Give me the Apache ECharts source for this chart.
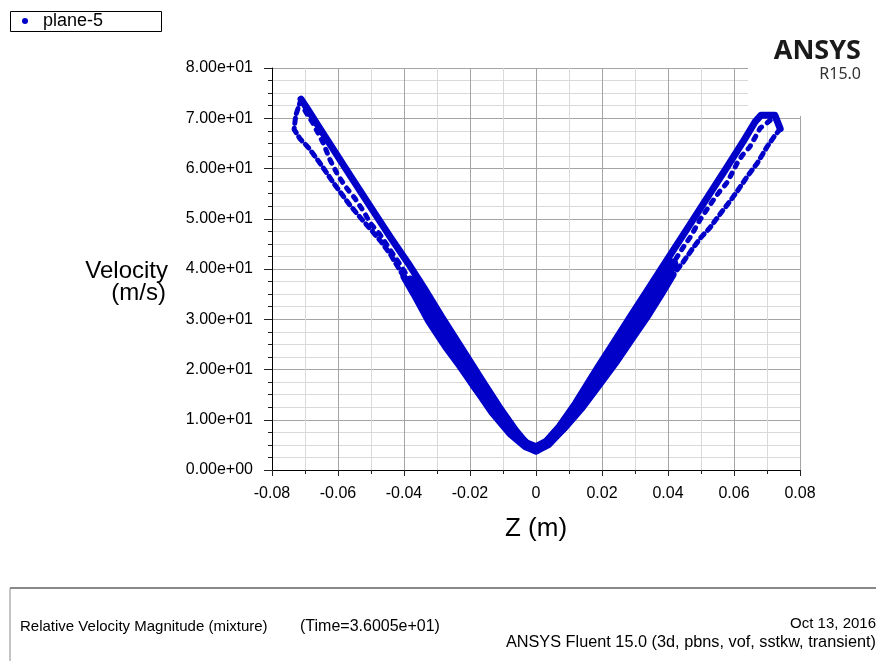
<!DOCTYPE html>
<html>
<head>
<meta charset="utf-8">
<script src="https://cdn.jsdelivr.net/npm/echarts@6/dist/echarts.min.js"></script>
<style>
html,body{margin:0;padding:0;background:#fff;}
#chart{width:876px;height:661px;}
</style>
</head>
<body>
<div id="chart"></div>
<script>
// velocity profile along Z, plane-5
var leftOuter = [[-0.0712,73.8],[-0.0690,71.6],[-0.0660,68.5],[-0.0620,64.4],[-0.0560,58.3],[-0.0500,52.2],[-0.0440,46.2],[-0.0388,41.2],[-0.0340,36.3],[-0.0285,30.4],[-0.0225,24.2],[-0.0165,18.0],[-0.0112,12.6],[-0.0062,7.9],[-0.0025,5.0],[0.0,4.1]];
var leftInnerTop = [[-0.0712,73.8],[-0.0728,70.6],[-0.0733,67.8],[-0.0715,65.9],[-0.0690,64.2],[-0.0655,61.1],[-0.0610,56.8],[-0.0564,52.7],[-0.0533,50.3],[-0.0503,48.0],[-0.0470,45.5],[-0.0442,43.0],[-0.0400,38.4]];
var leftInnerLow = [[-0.0400,38.4],[-0.0370,35.0],[-0.0325,29.6],[-0.0275,24.6],[-0.0230,20.6],[-0.0190,16.8],[-0.0140,12.4],[-0.0090,8.5],[-0.0040,5.2],[0.0,4.1]];
var leftCore = [[-0.0380,37.6],[-0.0310,30.2],[-0.0250,23.8],[-0.0190,17.6],[-0.0130,11.8],[-0.0075,7.5],[-0.0030,5.0],[0.0,4.2]];
var leftMid = [[-0.0700,71.5],[-0.0676,69.0],[-0.0645,65.1],[-0.0624,61.7],[-0.0600,58.6],[-0.0575,56.2],[-0.0548,54.0],[-0.0520,51.2],[-0.0503,49.2],[-0.0473,46.9],[-0.0442,43.8],[-0.0410,40.7],[-0.0380,37.6]];
var rightOuter = [[0.0,4.1],[0.0030,5.6],[0.0070,8.6],[0.0120,13.3],[0.0185,20.2],[0.0240,25.8],[0.0285,30.4],[0.0340,36.0],[0.0400,42.1],[0.0460,48.2],[0.0520,54.3],[0.0579,60.3],[0.0630,65.6],[0.0665,69.4],[0.0682,70.6],[0.0724,70.6],[0.0740,67.9]];
var rightInnerTop = [[0.0740,67.9],[0.0720,66.2],[0.0700,64.3],[0.0670,61.0],[0.0639,58.3],[0.0610,55.5],[0.0588,53.5],[0.0555,50.7],[0.0527,48.2],[0.0500,46.3],[0.0476,44.2],[0.0445,41.3],[0.0415,38.8]];
var rightInnerLow = [[0.0415,38.8],[0.0380,35.0],[0.0340,30.8],[0.0290,26.0],[0.0240,21.2],[0.0190,16.8],[0.0140,12.4],[0.0090,8.6],[0.0045,5.6],[0.0,4.1]];
var rightCore = [[0.0,4.2],[0.0035,5.4],[0.0080,8.6],[0.0130,13.0],[0.0190,18.6],[0.0250,24.6],[0.0310,30.6],[0.0370,36.8],[0.0415,41.0]];
var rightMid = [[0.0710,69.6],[0.0679,68.0],[0.0648,64.3],[0.0625,62.6],[0.0609,61.0],[0.0579,57.2],[0.0555,55.3],[0.0536,53.6],[0.0497,49.8],[0.0470,46.6],[0.0445,44.2],[0.0410,40.6]];

var seriesName = 'plane-5';
var blue = '#0000c8';
var font = '"Liberation Sans", Arial, sans-serif';

function fmtExp(v){
  var s = Number(v).toExponential(2);
  return s.replace(/e([+-])(\d)$/, 'e$10$2');
}

function band(data, width, dash){
  return {
    name: seriesName,
    type: 'line',
    data: data,
    showSymbol: false,
    symbol: 'circle',
    silent: true,
    itemStyle: {color: blue},
    lineStyle: {color: blue, width: width, type: dash || 'solid', cap: 'round', join: 'round'}
  };
}

var chart = echarts.init(document.getElementById('chart'));
chart.setOption({
  animation: false,
  backgroundColor: '#fff',
  textStyle: {fontFamily: font},
  grid: {left: 272, right: 76, top: 68, bottom: 191},
  legend: {
    left: 22, top: 12, padding: 0,
    icon: 'circle', itemWidth: 6, itemHeight: 6,
    textStyle: {fontSize: 18, color: '#000', fontFamily: font, padding: [0, 0, 0, 10]},
    data: [seriesName],
    selectedMode: false
  },
  xAxis: {
    type: 'value', min: -0.08, max: 0.08, interval: 0.02,
    name: 'Z (m)', nameLocation: 'middle', nameGap: 46,
    nameTextStyle: {fontSize: 26, color: '#000', fontFamily: font},
    axisLine: {onZero: false, lineStyle: {color: '#000', width: 1}},
    axisTick: {show: true, length: 6, lineStyle: {color: '#222'}},
    minorTick: {show: true, splitNumber: 2, length: 4, lineStyle: {color: '#222'}},
    axisLabel: {fontSize: 16, color: '#000', margin: 16},
    splitLine: {show: true, lineStyle: {color: '#a4a4a4', width: 1}},
    minorSplitLine: {show: true, lineStyle: {color: '#d9d9d9', width: 1}}
  },
  yAxis: {
    type: 'value', min: 0, max: 80, interval: 10,
    axisLine: {show: true, onZero: false, lineStyle: {color: '#000', width: 1}},
    axisTick: {show: true, length: 8, lineStyle: {color: '#222'}},
    minorTick: {show: true, splitNumber: 4, length: 4, lineStyle: {color: '#222'}},
    axisLabel: {fontSize: 16, color: '#000', margin: 19, formatter: fmtExp},
    splitLine: {show: true, lineStyle: {color: '#a4a4a4', width: 1}},
    minorSplitLine: {show: true, lineStyle: {color: '#d9d9d9', width: 1}}
  },
  graphic: [
    // cut-out behind the logo
    {type: 'rect', z: 1, shape: {x: 748, y: 58, width: 60, height: 58}, style: {fill: '#fff'}},
    {type: 'rect', z: 5, shape: {x: 10.5, y: 11.5, width: 151, height: 20}, style: {fill: 'none', stroke: '#000', lineWidth: 1}},
    {type: 'text', z: 5, x: 168, y: 271, style: {text: 'Velocity', font: '24px ' + font, fill: '#000', align: 'right', verticalAlign: 'middle'}},
    {type: 'text', z: 5, x: 166, y: 293, style: {text: '(m/s)', font: '24px ' + font, fill: '#000', align: 'right', verticalAlign: 'middle'}},
    {type: 'text', z: 5, x: 861, y: 51, style: {text: 'ANSYS', font: 'bold 27px "Noto Sans", "DejaVu Sans", sans-serif', fill: '#1a1a1a', align: 'right', verticalAlign: 'middle'}},
    {type: 'text', z: 5, x: 861, y: 74, style: {text: 'R15.0', font: '16px "Noto Sans", "DejaVu Sans", sans-serif', fill: '#333', align: 'right', verticalAlign: 'middle'}},
    // footer frame
    {type: 'line', z: 5, shape: {x1: 10, y1: 588, x2: 876, y2: 588}, style: {stroke: '#888', lineWidth: 2}},
    {type: 'line', z: 5, shape: {x1: 10, y1: 588, x2: 10, y2: 661}, style: {stroke: '#888', lineWidth: 1}},
    {type: 'text', z: 5, x: 20, y: 627, style: {text: 'Relative Velocity Magnitude (mixture)', font: '15px ' + font, fill: '#000', verticalAlign: 'middle'}},
    {type: 'text', z: 5, x: 300, y: 627, style: {text: '(Time=3.6005e+01)', font: '16px ' + font, fill: '#000', verticalAlign: 'middle'}},
    {type: 'text', z: 5, x: 876, y: 624, style: {text: 'Oct 13, 2016', font: '15px ' + font, fill: '#000', align: 'right', verticalAlign: 'middle'}},
    {type: 'text', z: 5, x: 876, y: 643, style: {text: 'ANSYS Fluent 15.0 (3d, pbns, vof, sstkw, transient)', font: '16.3px ' + font, fill: '#000', align: 'right', verticalAlign: 'middle'}}
  ],
  series: [
    band(leftOuter, 7),
    band(leftInnerTop, 5, [5, 5]),
    band(leftInnerLow, 7),
    band(leftCore, 11),
    band(leftMid, 5, [4, 7]),
    band(rightOuter, 7),
    band(rightInnerTop, 5, [5, 5]),
    band(rightInnerLow, 7),
    band(rightCore, 11),
    band(rightMid, 5, [4, 7])
  ]
});
</script>
</body>
</html>
